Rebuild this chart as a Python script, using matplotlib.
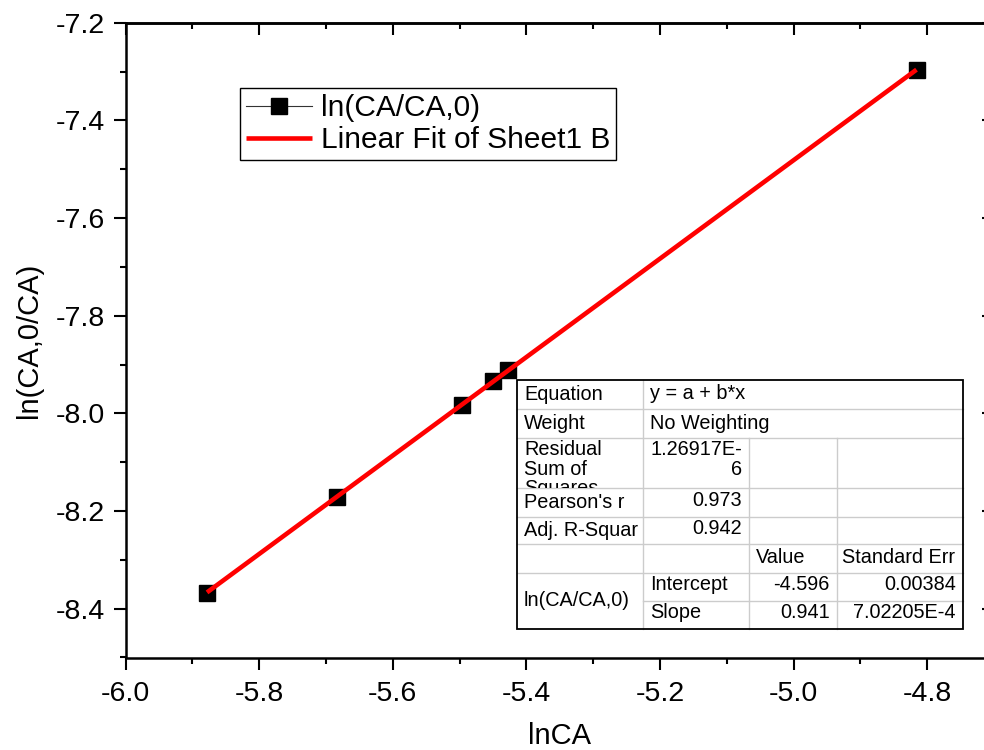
import numpy as np
import matplotlib
matplotlib.use("Agg")
import matplotlib.pyplot as plt
from matplotlib.ticker import MultipleLocator
from matplotlib.lines import Line2D
from matplotlib.patches import Rectangle
from matplotlib.transforms import Bbox, TransformedBbox

plt.rcParams['font.family'] = ['Liberation Sans', 'DejaVu Sans']

# ---- data ----
lnCA = [-5.878, -5.684, -5.496, -5.450, -5.427, -4.816]
ln_ratio = [-8.368, -8.171, -7.982, -7.933, -7.912, -7.297]
series_label = "ln(CA/CA,0)"
fit_label = "Linear Fit of Sheet1 B"
x_label = "lnCA"
y_label = "ln(CA,0/CA)"

# fit-statistics table text
tbl_equation = ["Equation", "y = a + b*x"]
tbl_weight = ["Weight", "No Weighting"]
tbl_rss = ["Residual\nSum of\nSquares", "1.26917E-\n6"]
tbl_pearson = ["Pearson's r", "0.973"]
tbl_adjr = ["Adj. R-Squar", "0.942"]
tbl_header = ["Value", "Standard Err"]
tbl_group = "ln(CA/CA,0)"
tbl_params = [["Intercept", "-4.596", "0.00384"],
              ["Slope", "0.941", "7.02205E-4"]]

W, H = 984, 750
fig = plt.figure(figsize=(W / 100, H / 100), dpi=100)

L, R, T, B = 125.5, 994, 22.7, 657.5
ax = fig.add_axes([L / W, 1 - B / H, (R - L) / W, (B - T) / H])
ax.set_xlim(-6.0, -4.7)
ax.set_ylim(-8.5, -7.2)

x = np.array(lnCA)
y = np.array(ln_ratio)
ax.plot(x, y, color='#333333', lw=0.8, marker='s', ms=11,
        mfc='black', mec='black', zorder=3, label=series_label)
coef = np.polyfit(x, y, 1)
xf = np.array([x.min(), x.max()])
ax.plot(xf, np.polyval(coef, xf), color='#ff0000', lw=3.3, zorder=4,
        solid_capstyle='butt', label=fit_label)

for s in ax.spines.values():
    s.set_linewidth(1.8)

ax.xaxis.set_major_locator(MultipleLocator(0.2))
ax.xaxis.set_minor_locator(MultipleLocator(0.1))
ax.yaxis.set_major_locator(MultipleLocator(0.2))
ax.yaxis.set_minor_locator(MultipleLocator(0.1))
ax.xaxis.set_major_formatter(matplotlib.ticker.FormatStrFormatter('%.1f'))
ax.yaxis.set_major_formatter(matplotlib.ticker.FormatStrFormatter('%.1f'))
ax.tick_params(which='both', direction='out', width=1.5, labelsize=20.5,
               top=False, right=False)
ax.tick_params(which='major', length=8.6, pad=6)
ax.tick_params(axis='x', which='major', pad=8)
ax.tick_params(which='minor', length=4.3)

secx = ax.secondary_xaxis('top')
secx.xaxis.set_major_locator(MultipleLocator(0.2))
secx.xaxis.set_minor_locator(MultipleLocator(0.1))
secx.tick_params(which='both', direction='in', width=1.5, labeltop=False)
secx.tick_params(which='major', length=8.6)
secx.tick_params(which='minor', length=4.3)
secx.spines['top'].set_linewidth(1.8)
secy = ax.secondary_yaxis('right')
secy.yaxis.set_major_locator(MultipleLocator(0.2))
secy.yaxis.set_minor_locator(MultipleLocator(0.1))
secy.tick_params(which='both', direction='in', width=1.5, labelright=False)
secy.tick_params(which='major', length=8.6)
secy.tick_params(which='minor', length=4.3)

ax.set_xlabel(x_label, fontsize=21)
ax.set_ylabel(y_label, fontsize=21)
ax.xaxis.set_label_coords(0.5, (B - 722) / (B - T))
ax.yaxis.set_label_coords((43 - L) / (R - L), 0.5)

leg = ax.legend(loc='upper left',
                bbox_to_anchor=(240 / W, 1 - 88 / H),
                bbox_transform=fig.transFigure,
                fontsize=21.5, frameon=True, fancybox=False, framealpha=1,
                edgecolor='black', borderaxespad=0, borderpad=0.2,
                handlelength=2.2, handletextpad=0.3, labelspacing=0.15)
leg.get_frame().set_linewidth(1.0)

# ---- fit table drawn in figure pixel coords (top-left origin) ----
def fx(px):
    return px / W

def fy(py):
    return 1 - py / H

tl, tr, tt, tb = 517, 963, 380, 629
cx = [517, 643, 749, 837, 963]
ry = [380, 409, 438, 488, 517, 544, 573, 601, 629]
grid_c = '#cccccc'
fs = 14.3

fig.add_artist(Rectangle((fx(tl), fy(tb)), fx(tr) - fx(tl), fy(tt) - fy(tb),
                         transform=fig.transFigure, facecolor='white',
                         edgecolor='none', zorder=10))

def hline(py, x0, x1, c=grid_c, lw=1.0):
    fig.add_artist(Line2D([fx(x0), fx(x1)], [fy(py), fy(py)],
                          transform=fig.transFigure, color=c, lw=lw, zorder=11))

def vline(px, y0, y1, c=grid_c, lw=1.0):
    fig.add_artist(Line2D([fx(px), fx(px)], [fy(y0), fy(y1)],
                          transform=fig.transFigure, color=c, lw=lw, zorder=11))

for py in ry[1:7]:
    hline(py, tl, tr)
hline(ry[7], cx[1], tr)
vline(cx[1], tt, tb)
vline(cx[2], ry[2], tb)
vline(cx[3], ry[2], tb)
fig.add_artist(Rectangle((fx(tl), fy(tb)), fx(tr) - fx(tl), fy(tt) - fy(tb),
                         transform=fig.transFigure, facecolor='none',
                         edgecolor='black', lw=1.3, zorder=12))

def ctext(px, py, s, ha='left', va='center', clip=None):
    t = fig.text(fx(px), fy(py), s, ha=ha, va=va, fontsize=fs, zorder=13,
                 linespacing=1.05)
    if clip is not None:
        x0, y0, x1, y1 = clip
        bb = Bbox.from_extents(fx(x0), fy(y1), fx(x1), fy(y0))
        t.set_clip_box(TransformedBbox(bb, fig.transFigure))
        t.set_clip_on(True)
    return t

pad = 7
def row_mid(i):
    return (ry[i] + ry[i + 1]) / 2

ctext(cx[0] + pad, row_mid(0), tbl_equation[0])
ctext(cx[1] + pad, row_mid(0) - 1, tbl_equation[1])
ctext(cx[0] + pad, row_mid(1), tbl_weight[0])
ctext(cx[1] + pad, row_mid(1), tbl_weight[1])
ctext(cx[0] + pad, ry[2] + 2, tbl_rss[0], va='top',
      clip=(cx[0], ry[2], cx[1], ry[3]))
ctext(cx[2] - pad, ry[2] + 2, tbl_rss[1], ha='right', va='top')
ctext(cx[0] + pad, row_mid(3), tbl_pearson[0])
ctext(cx[2] - pad, row_mid(3) - 2, tbl_pearson[1], ha='right')
ctext(cx[0] + pad, row_mid(4), tbl_adjr[0])
ctext(cx[2] - pad, row_mid(4) - 2, tbl_adjr[1], ha='right')
ctext(cx[2] + pad, row_mid(5) - 1, tbl_header[0])
ctext(cx[3] + 5, row_mid(5) - 1, tbl_header[1])
ctext(cx[0] + pad, (ry[6] + ry[8]) / 2, tbl_group)
for i, row in enumerate(tbl_params):
    ym = row_mid(6 + i) - 2
    ctext(cx[1] + pad, ym, row[0])
    ctext(cx[3] - pad, ym, row[1], ha='right')
    ctext(cx[4] - pad, ym, row[2], ha='right')

fig.savefig("out.png", dpi=100)
